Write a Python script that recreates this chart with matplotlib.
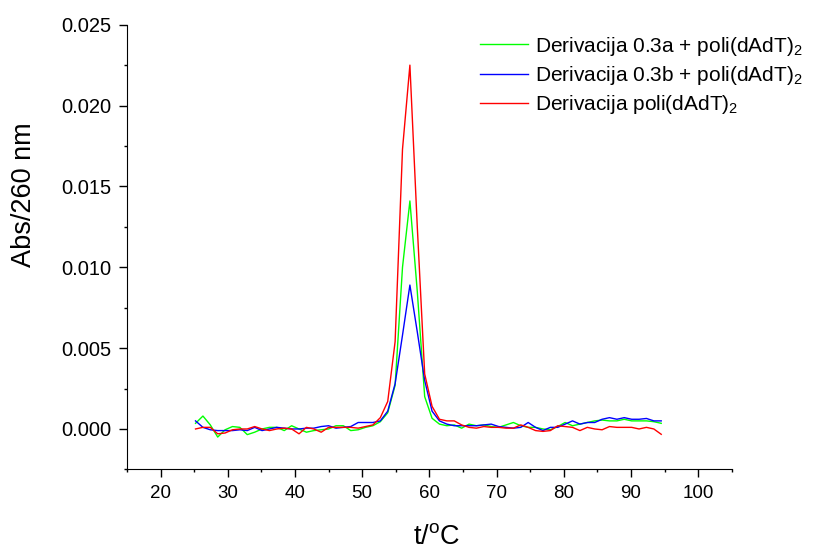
import numpy as np
import matplotlib
matplotlib.use('Agg')
import matplotlib.pyplot as plt
from matplotlib.ticker import MultipleLocator, FormatStrFormatter

plt.rcParams['font.family'] = ['Liberation Sans', 'DejaVu Sans']
plt.rcParams['mathtext.fontset'] = 'custom'
plt.rcParams['mathtext.rm'] = 'Liberation Sans'
plt.rcParams['mathtext.it'] = 'Liberation Sans:italic'

# temperature grid (deg C)
temp = [25.2, 26.3, 27.4, 28.5, 29.6, 30.7, 31.8, 32.9, 34.0, 35.1,
        36.2, 37.3, 38.4, 39.5, 40.6, 41.7, 42.8, 43.9, 45.0, 46.1,
        47.2, 48.3, 49.4, 50.5, 51.6, 52.7, 53.8, 54.9, 56.0, 57.1,
        58.2, 59.3, 60.4, 61.5, 62.6, 63.7, 64.8, 65.9, 67.0, 68.1,
        69.2, 70.3, 71.4, 72.5, 73.6, 74.7, 75.8, 76.9, 78.0, 79.1,
        80.2, 81.3, 82.4, 83.5, 84.6, 85.7, 86.8, 87.9, 89.0, 90.1,
        91.2, 92.3, 93.4, 94.5]

# Derivacija 0.3a + poli(dAdT)2
deriv_03a = [0.00035, 0.0008, 0.00025, -0.0005, -0.00005, 0.00015, 0.0001, -0.00035, -0.0002, 0.0,
             0.0001, 0.0001, -0.0001, 0.0002, 0.0, -0.0002, -0.0001, -0.00005, 0.0, 0.0002,
             0.0002, -0.0001, -0.00005, 0.0001, 0.0002, 0.00045, 0.001, 0.0027, 0.0100, 0.0141,
             0.0085, 0.0020, 0.00066, 0.0003, 0.0002, 0.00025, 0.00005, 0.0003, 0.0002, 0.00025,
             0.00015, 0.0001, 0.00025, 0.0004, 0.0002, 0.0001, 0.0001, 0.0, -0.00005, 0.00015,
             0.0004, 0.0002, 0.0003, 0.0004, 0.0005, 0.00055, 0.0005, 0.0005, 0.0006, 0.0005,
             0.0005, 0.0005, 0.00045, 0.00035]

# Derivacija 0.3b + poli(dAdT)2
deriv_03b = [0.0005, 0.0001, -0.00005, -0.0001, -0.0001, -0.0001, -0.00005, -0.0001, 0.0001, -0.0001,
             0.0, 0.0001, 0.00005, 0.0, 0.0, 0.00005, 0.00005, 0.00015, 0.0002, 0.00005,
             0.0001, 0.00015, 0.0004, 0.0004, 0.0004, 0.0005, 0.0011, 0.0028, 0.0058, 0.0089,
             0.0060, 0.0030, 0.0011, 0.0005, 0.0003, 0.0002, 0.0002, 0.0002, 0.0002, 0.00025,
             0.0003, 0.00015, 0.0001, 0.00005, 0.0001, 0.0004, 0.0001, -0.0001, 0.0001, 0.0001,
             0.0003, 0.0005, 0.0003, 0.0004, 0.0004, 0.0006, 0.0007, 0.0006, 0.0007, 0.0006,
             0.0006, 0.00065, 0.0005, 0.0005]

# Derivacija poli(dAdT)2
deriv_poli = [0.0, 0.0001, 0.0001, -0.0003, -0.00025, -0.00005, 0.0, 0.0, 0.00015, 0.0,
              -0.0001, 0.0, 0.00005, 0.0, -0.0003, 0.0001, 0.0, -0.0002, 0.0001, 0.0001,
              0.0001, 0.0001, 0.00005, 0.00015, 0.00025, 0.0007, 0.0017, 0.0054, 0.0173, 0.0225,
              0.0125, 0.0034, 0.0014, 0.0006, 0.0005, 0.0005, 0.00025, 0.0001, 0.00005, 0.00015,
              0.0001, 0.0001, 0.00005, 0.00005, 0.00025, 0.0001, -0.0001, -0.00015, -0.0001, 0.0002,
              0.00015, 0.0001, -0.0001, 0.0001, 0.0, -0.00005, 0.00015, 0.0001, 0.0001, 0.0001,
              0.0, 0.0001, 0.0, -0.00033]

fig = plt.figure(figsize=(8.14, 5.49), dpi=100)
ax = fig.add_axes([0.156, 0.145, 0.743, 0.81])

ax.plot(temp, deriv_03a, color='#00FF00', linewidth=1.0, label=r'Derivacija 0.3a + poli(dAdT)$_\mathregular{2}$')
ax.plot(temp, deriv_03b, color='#0000FF', linewidth=1.0, label=r'Derivacija 0.3b + poli(dAdT)$_\mathregular{2}$')
ax.plot(temp, deriv_poli, color='#FF0000', linewidth=1.0, label=r'Derivacija poli(dAdT)$_\mathregular{2}$')

ax.set_xlim(15, 105)
ax.set_ylim(-0.0025, 0.025)
ax.xaxis.set_major_locator(MultipleLocator(10))
ax.xaxis.set_minor_locator(MultipleLocator(5))
ax.yaxis.set_major_locator(MultipleLocator(0.005))
ax.yaxis.set_minor_locator(MultipleLocator(0.0025))
ax.yaxis.set_major_formatter(FormatStrFormatter('%.3f'))
ax.tick_params(which='major', direction='out', length=6, width=1, pad=5)
ax.tick_params(axis='x', which='major', labelsize=13.5)
ax.tick_params(axis='y', which='major', labelsize=14.5)
ax.tick_params(which='minor', direction='out', length=2.5, width=1)

ax.spines['top'].set_visible(False)
ax.spines['right'].set_visible(False)

ax.set_xlabel(r't/$^\mathregular{o}$C', fontsize=19.5)
ax.set_ylabel('Abs/260 nm', fontsize=19.5)
ax.xaxis.set_label_coords(0.512, -0.122)
ax.yaxis.set_label_coords(-0.148, 0.617)

ax.legend(loc='upper left', bbox_to_anchor=(0.590, 0.937), bbox_transform=fig.transFigure,
          frameon=False, fontsize=15, handlelength=2.3, handletextpad=0.35,
          labelspacing=0.3, borderpad=0, borderaxespad=0)

fig.savefig('out.png', dpi=100)
